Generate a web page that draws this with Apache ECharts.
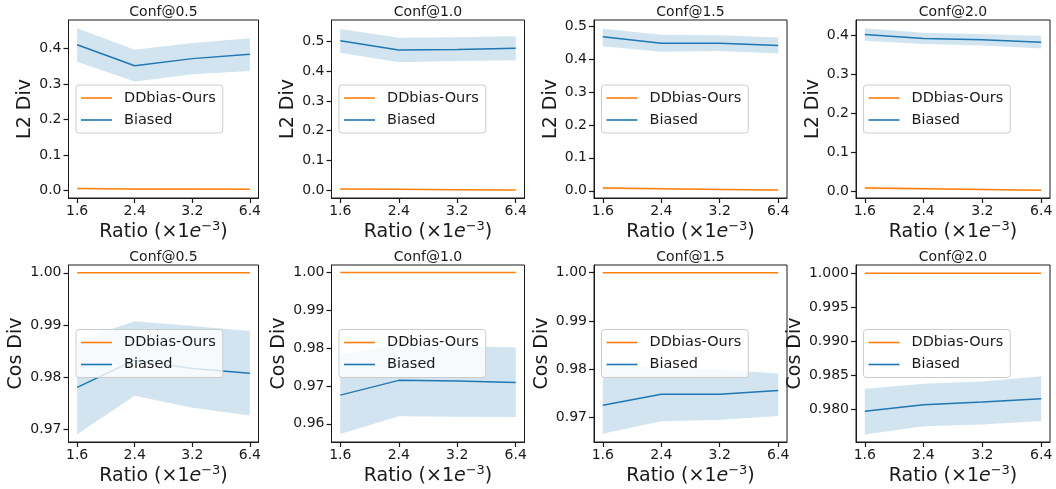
<!DOCTYPE html>
<html>
<head>
<meta charset="utf-8">
<script src="https://cdn.jsdelivr.net/npm/echarts@6/dist/echarts.min.js"></script>
<style>
  html, body { margin: 0; padding: 0; background: #ffffff; }
  #chart { width: 1056px; height: 489px; }
</style>
</head>
<body>
<div id="chart"></div>
<script>
// ---- data ----
const ratioLabels = ['1.6', '2.4', '3.2', '6.4'];
const confTitles = ['Conf@0.5', 'Conf@1.0', 'Conf@1.5', 'Conf@2.0'];
const seriesNames = ['DDbias-Ours', 'Biased'];

// L2 divergence (one inner array per confidence threshold)
const l2OursMean = [
  [0.006, 0.005, 0.005, 0.004],
  [0.004, 0.003, 0.002, 0.001],
  [0.008, 0.006, 0.004, 0.002],
  [0.008, 0.006, 0.004, 0.002]
];
const l2OursLow = [
  [0.004, 0.003, 0.003, 0.002],
  [0.003, 0.002, 0.001, 0.000],
  [0.004, 0.004, 0.003, 0.001],
  [0.004, 0.004, 0.003, 0.001]
];
const l2OursHigh = [
  [0.008, 0.007, 0.007, 0.006],
  [0.005, 0.004, 0.003, 0.002],
  [0.012, 0.008, 0.006, 0.004],
  [0.012, 0.009, 0.006, 0.004]
];
const l2BiasedMean = [
  [0.410, 0.351, 0.371, 0.383],
  [0.502, 0.471, 0.473, 0.477],
  [0.468, 0.448, 0.448, 0.441],
  [0.402, 0.392, 0.389, 0.382]
];
const l2BiasedLow = [
  [0.362, 0.307, 0.327, 0.336],
  [0.462, 0.430, 0.434, 0.437],
  [0.439, 0.422, 0.424, 0.417],
  [0.386, 0.378, 0.374, 0.366]
];
const l2BiasedHigh = [
  [0.456, 0.396, 0.415, 0.428],
  [0.542, 0.512, 0.514, 0.517],
  [0.492, 0.474, 0.472, 0.465],
  [0.418, 0.407, 0.403, 0.399]
];

// Cosine divergence
const cosOursMean = [
  [1.0, 1.0, 1.0, 1.0],
  [1.0, 1.0, 1.0, 1.0],
  [1.0, 1.0, 1.0, 1.0],
  [1.0, 1.0, 1.0, 1.0]
];
const cosOursLow = [
  [0.99998, 0.99998, 0.99998, 0.99998],
  [0.99998, 0.99998, 0.99998, 0.99998],
  [0.99998, 0.99998, 0.99998, 0.99998],
  [0.99998, 0.99998, 0.99998, 0.99998]
];
const cosOursHigh = [
  [1.0, 1.0, 1.0, 1.0],
  [1.0, 1.0, 1.0, 1.0],
  [1.0, 1.0, 1.0, 1.0],
  [1.0, 1.0, 1.0, 1.0]
];
const cosBiasedMean = [
  [0.9780, 0.9832, 0.9816, 0.9807],
  [0.9676, 0.9715, 0.9713, 0.9709],
  [0.9725, 0.9748, 0.9748, 0.9756],
  [0.97971, 0.98068, 0.98107, 0.98155]
];
const cosBiasedLow = [
  [0.9690, 0.9764, 0.9741, 0.9726],
  [0.9573, 0.9620, 0.9619, 0.9618],
  [0.9666, 0.9692, 0.9695, 0.9703],
  [0.97631, 0.97752, 0.97777, 0.97830]
];
const cosBiasedHigh = [
  [0.9870, 0.9907, 0.9898, 0.9888],
  [0.9783, 0.9810, 0.9806, 0.9802],
  [0.9803, 0.9805, 0.9799, 0.9791],
  [0.98301, 0.98374, 0.98408, 0.98485]
];

// tick values and axis limits
const l2Ticks = [
  [0.0, 0.1, 0.2, 0.3, 0.4],
  [0.0, 0.1, 0.2, 0.3, 0.4, 0.5],
  [0.0, 0.1, 0.2, 0.3, 0.4, 0.5],
  [0.0, 0.1, 0.2, 0.3, 0.4]
];
const cosTicks = [
  [0.97, 0.98, 0.99, 1.00],
  [0.96, 0.97, 0.98, 0.99, 1.00],
  [0.97, 0.98, 0.99, 1.00],
  [0.980, 0.985, 0.990, 0.995, 1.000]
];
const cosTickDecimals = [2, 2, 2, 3];
const l2Range = [[-0.0205, 0.4795], [-0.026, 0.572], [-0.022, 0.5185], [-0.018, 0.4395]];
const cosRange = [[0.9675, 1.0015], [0.9552, 1.002], [0.9649, 1.0016], [0.9752, 1.0012]];

// ---- layout and style ----
const FONT = 'DejaVu Sans';
const INK = '#1a1a1a';
const ORANGE = '#ff7f0e';
const BLUE = '#1f77b4';
const colLeft = [68.5, 331.5, 594, 856];
const colWidth = [190, 193, 193, 194];
const rowTop = [20, 265];
const rowHeight = [178, 177];
const yNameGap = [[33.5, 33.5, 33.5, 33.5], [42.5, 42.5, 42.5, 51]];

const rows = [
  { name: 'L2 Div', ours: [l2OursMean, l2OursLow, l2OursHigh], biased: [l2BiasedMean, l2BiasedLow, l2BiasedHigh],
    ticks: l2Ticks, range: l2Range, decimals: [1, 1, 1, 1] },
  { name: 'Cos Div', ours: [cosOursMean, cosOursLow, cosOursHigh], biased: [cosBiasedMean, cosBiasedLow, cosBiasedHigh],
    ticks: cosTicks, range: cosRange, decimals: cosTickDecimals }
];

const xPositions = ratioLabels.map((_, i) => i);
const pairs = (vals) => vals.map((v, i) => [xPositions[i], v]);

// spread band between lower and upper bounds, drawn as a single polygon in axis coordinates
function bandSeries(gridIdx, low, high, color) {
  const rowsData = xPositions.map((x, i) => [x, low[i], high[i]]);
  return {
    type: 'custom', xAxisIndex: gridIdx, yAxisIndex: gridIdx, silent: true, clip: true, z: 1,
    data: rowsData,
    encode: { x: 0, y: [1, 2] },
    renderItem: (params, api) => {
      if (params.dataIndex !== 0) return null;
      const upper = rowsData.map((d) => api.coord([d[0], d[2]]));
      const lower = rowsData.slice().reverse().map((d) => api.coord([d[0], d[1]]));
      return {
        type: 'polygon',
        shape: { points: upper.concat(lower) },
        style: { fill: color, opacity: 0.2, stroke: null }
      };
    }
  };
}

const grid = [], xAxis = [], yAxis = [], series = [], legend = [], graphic = [];

rows.forEach((row, r) => {
  for (let c = 0; c < 4; c++) {
    const g = grid.length;
    grid.push({
      left: colLeft[c], top: rowTop[r], width: colWidth[c], height: rowHeight[r],
      show: true, borderColor: INK, borderWidth: 1, backgroundColor: 'transparent'
    });
    xAxis.push({
      gridIndex: g, type: 'value', min: -0.15, max: 3.15,
      axisLine: { show: true, onZero: false, lineStyle: { color: INK, width: 1 } },
      axisTick: { show: true, customValues: xPositions, length: 5, lineStyle: { color: INK, width: 1.2 } },
      axisLabel: {
        customValues: xPositions, margin: 6,
        formatter: (v) => ratioLabels[Math.round(v)],
        fontFamily: FONT, fontSize: 14, color: INK
      },
      splitLine: { show: false },
      name: '{n|Ratio (×1}{e|e}{s|−3}{n|)}',
      nameLocation: 'middle', nameGap: 22,
      nameTextStyle: {
        fontFamily: FONT, color: INK,
        rich: {
          n: { fontFamily: FONT, fontSize: 19, color: INK, lineHeight: 24 },
          e: { fontFamily: FONT, fontSize: 19, fontStyle: 'italic', color: INK, lineHeight: 24 },
          s: { fontFamily: FONT, fontSize: 13, color: INK, lineHeight: 14, verticalAlign: 'top' }
        }
      }
    });
    const dec = row.decimals[c];
    yAxis.push({
      gridIndex: g, type: 'value', min: row.range[c][0], max: row.range[c][1],
      axisLine: { show: true, onZero: false, lineStyle: { color: INK, width: 1 } },
      axisTick: { show: true, customValues: row.ticks[c], length: 5, lineStyle: { color: INK, width: 1.2 } },
      axisLabel: {
        customValues: row.ticks[c], margin: 7,
        formatter: (v) => v.toFixed(dec),
        fontFamily: FONT, fontSize: 14, color: INK
      },
      splitLine: { show: false },
      name: row.name, nameLocation: 'middle', nameRotate: 90, nameGap: yNameGap[r][c],
      nameTextStyle: { fontFamily: FONT, fontSize: 19, color: INK }
    });

    series.push(bandSeries(g, row.ours[1][c], row.ours[2][c], ORANGE));
    series.push(bandSeries(g, row.biased[1][c], row.biased[2][c], BLUE));

    series.push({
      type: 'line', xAxisIndex: g, yAxisIndex: g, name: seriesNames[0], symbol: 'none',
      color: ORANGE, lineStyle: { color: ORANGE, width: 1.5 }, data: pairs(row.ours[0][c]), z: 3
    });
    series.push({
      type: 'line', xAxisIndex: g, yAxisIndex: g, name: seriesNames[1], symbol: 'none',
      color: BLUE, lineStyle: { color: BLUE, width: 1.5 }, data: pairs(row.biased[0][c]), z: 3
    });

    const midY = rowTop[r] + rowHeight[r] / 2;
    legend.push({
      data: [{ name: seriesNames[0], icon: 'rect' }, { name: seriesNames[1], icon: 'rect' }],
      orient: 'vertical', left: colLeft[c] + 7.5, top: midY - 24,
      itemWidth: 31, itemHeight: 1.6, itemGap: 4,
      padding: [4, 7, 4, 5],
      backgroundColor: 'rgba(255,255,255,0.8)', borderColor: '#cccccc', borderWidth: 1, borderRadius: 3,
      selectedMode: false,
      textStyle: { fontFamily: FONT, fontSize: 14.5, color: INK, lineHeight: 18, padding: [0, 0, 0, 7] },
      z: 10
    });

    graphic.push({
      type: 'text', x: colLeft[c] + colWidth[c] / 2, y: rowTop[r] - 7.5,
      style: { text: confTitles[c], fontFamily: FONT, fontSize: 14, fill: INK, align: 'center', verticalAlign: 'middle' }
    });
  }
});

const chart = echarts.init(document.getElementById('chart'), null, { renderer: 'canvas' });
chart.setOption({
  animation: false,
  backgroundColor: '#ffffff',
  grid, xAxis, yAxis, series, legend, graphic,
  tooltip: { show: false }
});
</script>
</body>
</html>
